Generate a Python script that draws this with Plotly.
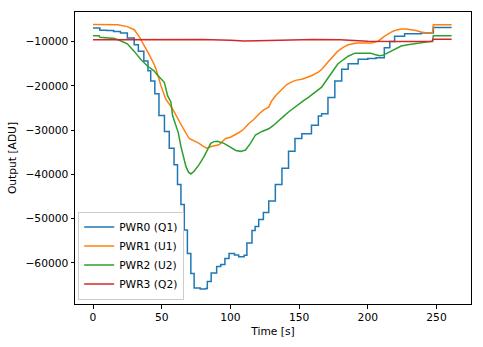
import plotly.graph_objects as go

# Power channel outputs over time
t_pwr0 = [0, 4.5, 5, 10, 15, 20, 25, 30, 33, 37, 40, 42, 45, 48, 52, 55.5, 59, 61.5, 64, 66.4,
          68.7, 71.2, 73.6, 78, 82, 83.2, 86, 90, 93, 96, 99, 103, 106, 110, 112, 115.7, 118,
          120.6, 124, 127.9, 132.7, 137.5, 142.3, 147, 152, 159, 164, 166.4, 171, 176, 181,
          185.7, 193, 200, 206, 212, 216, 219.5, 226.8, 238.8, 247, 247.7, 261]
v_pwr0 = [-6900, -6900, -7400, -7500, -7700, -8060, -9200, -10700, -12150, -14400, -16600,
          -18900, -21800, -26700, -30300, -34100, -37800, -42300, -46800, -52600, -57900, -62400,
          -65700, -65900, -65800, -64200, -62300, -60800, -60400, -59000, -57900, -58200, -58600,
          -58300, -55500, -52700, -51800, -50200, -48600, -46000, -42300, -38600, -34800, -31900,
          -30800, -28900, -26800, -26300, -22600, -18900, -16250, -15000, -14000, -13800, -13650,
          -11400, -9950, -8800, -8200, -8060, -8060, -6800, -6800]

t_pwr1 = [0, 10, 18, 25, 30, 33.5, 37, 40.8, 44.4, 46, 49.5, 53, 57.9, 62.7, 66, 70, 74, 77.2,
          80, 83, 86, 91.7, 96.5, 100, 106, 110, 113.4, 117, 120.6, 124, 127.9, 130, 133.5,
          137.5, 141, 144.7, 148, 152, 155, 159, 164, 166.4, 171, 174.5, 178, 182, 185.7, 190,
          193, 202.6, 207.5, 212, 215, 218, 221, 224.3, 228, 231.5, 235, 238.8, 242, 247,
          247.7, 261]
v_pwr1 = [-6100, -6100, -6200, -6600, -7300, -8800, -10700, -12900, -15100, -16300, -20000,
          -23000, -25200, -28100, -29800, -31900, -32500, -33000, -33600, -34100, -33700, -33300,
          -31900, -31600, -30600, -29700, -28500, -27600, -26400, -25500, -24800, -23400, -22000,
          -20700, -19700, -19100, -18700, -18500, -18200, -17700, -16900, -16300, -14600, -13300,
          -12200, -11300, -10700, -10400, -10300, -10300, -9900, -8800, -8200, -7700, -7350,
          -7150, -7150, -7300, -7500, -7800, -8000, -8050, -6200, -6200]

t_pwr2 = [0, 4.5, 5, 10, 15.5, 20, 25, 30, 34.7, 39.6, 44.4, 47, 51.9, 54.3, 56.7, 57.9, 60.3,
          62, 64, 66, 67.6, 69.5, 71.2, 73.6, 77.2, 80.8, 82, 83.2, 85.7, 88, 90.5, 95.3, 98,
          101.3, 104, 107.4, 111, 114.6, 118.2, 123, 127.9, 131, 135, 138.7, 142.3, 146, 149.6,
          153, 156.8, 161.7, 166.4, 171.3, 174.5, 178, 182, 185.7, 190.6, 197.8, 202, 205,
          208.7, 211, 214.7, 218, 222, 224.3, 229, 234, 243.6, 247, 247.7, 261]
v_pwr2 = [-8650, -8650, -9000, -9150, -9300, -9800, -10500, -12200, -14000, -15500, -16600,
          -17600, -19200, -22200, -23700, -26700, -28900, -30500, -33700, -36500, -38200, -39500,
          -39900, -39300, -37800, -36000, -35200, -34500, -33000, -32600, -32500, -33000, -33500,
          -34100, -34600, -34800, -34500, -33000, -31100, -30300, -29700, -29000, -27800, -26900,
          -25900, -25000, -24100, -23400, -22600, -21500, -20300, -18100, -16600, -15100, -14100,
          -13300, -12600, -12500, -12600, -12900, -13200, -13100, -12500, -12000, -11400, -11000,
          -10700, -10500, -10150, -9900, -8650, -8650]

t_pwr3 = [0, 20, 40, 60, 80, 100, 110, 120, 140, 160, 180, 200, 220, 240, 247, 247.7, 261]
v_pwr3 = [-9600, -9550, -9500, -9450, -9500, -9700, -9850, -9800, -9600, -9500, -9600, -9900,
          -9950, -9950, -9950, -9450, -9450]

names = ["PWR0 (Q1)", "PWR1 (U1)", "PWR2 (U2)", "PWR3 (Q2)"]
colors = ["#1f77b4", "#ff7f0e", "#2ca02c", "#d62728"]
shapes = ["hv", "linear", "linear", "linear"]
series = [(t_pwr0, v_pwr0), (t_pwr1, v_pwr1), (t_pwr2, v_pwr2), (t_pwr3, v_pwr3)]

x_ticks = [0, 50, 100, 150, 200, 250]
y_ticks = [-60000, -50000, -40000, -30000, -20000, -10000]

FONT = "DejaVu Sans"
FS = 10.7

fig = go.Figure()
for (t, v), name, color, shape in zip(series, names, colors, shapes):
    fig.add_trace(go.Scatter(x=t, y=v, mode="lines", name=name,
                             line=dict(color=color, width=1.5, shape=shape)))

axis_common = dict(showline=True, linecolor="black", linewidth=1, mirror=True,
                   ticks="outside", ticklen=3.5, tickwidth=0.8, tickcolor="black",
                   showgrid=False, zeroline=False,
                   tickfont=dict(family=FONT, size=FS, color="black"),
                   title_font=dict(family=FONT, size=FS, color="black"))

fig.update_xaxes(range=[-13.1, 275.1], tickvals=x_ticks, title_text="Time [s]",
                 title_standoff=4, **axis_common)
fig.update_yaxes(range=[-69300, -3300], tickvals=y_ticks, tickformat="d",
                 title_text="Output [ADU]", title_standoff=6, **axis_common)

fig.update_layout(
    width=483, height=347,
    margin=dict(l=75, r=11, t=11, b=40),
    paper_bgcolor="white", plot_bgcolor="white",
    font=dict(family=FONT, size=FS, color="black"),
    legend=dict(x=0.008, y=0.015, xanchor="left", yanchor="bottom",
                bgcolor="rgba(255,255,255,0.8)", bordercolor="#cccccc", borderwidth=1,
                font=dict(family=FONT, size=FS, color="black"),
                tracegroupgap=0),
)

fig.write_html("out.html")
